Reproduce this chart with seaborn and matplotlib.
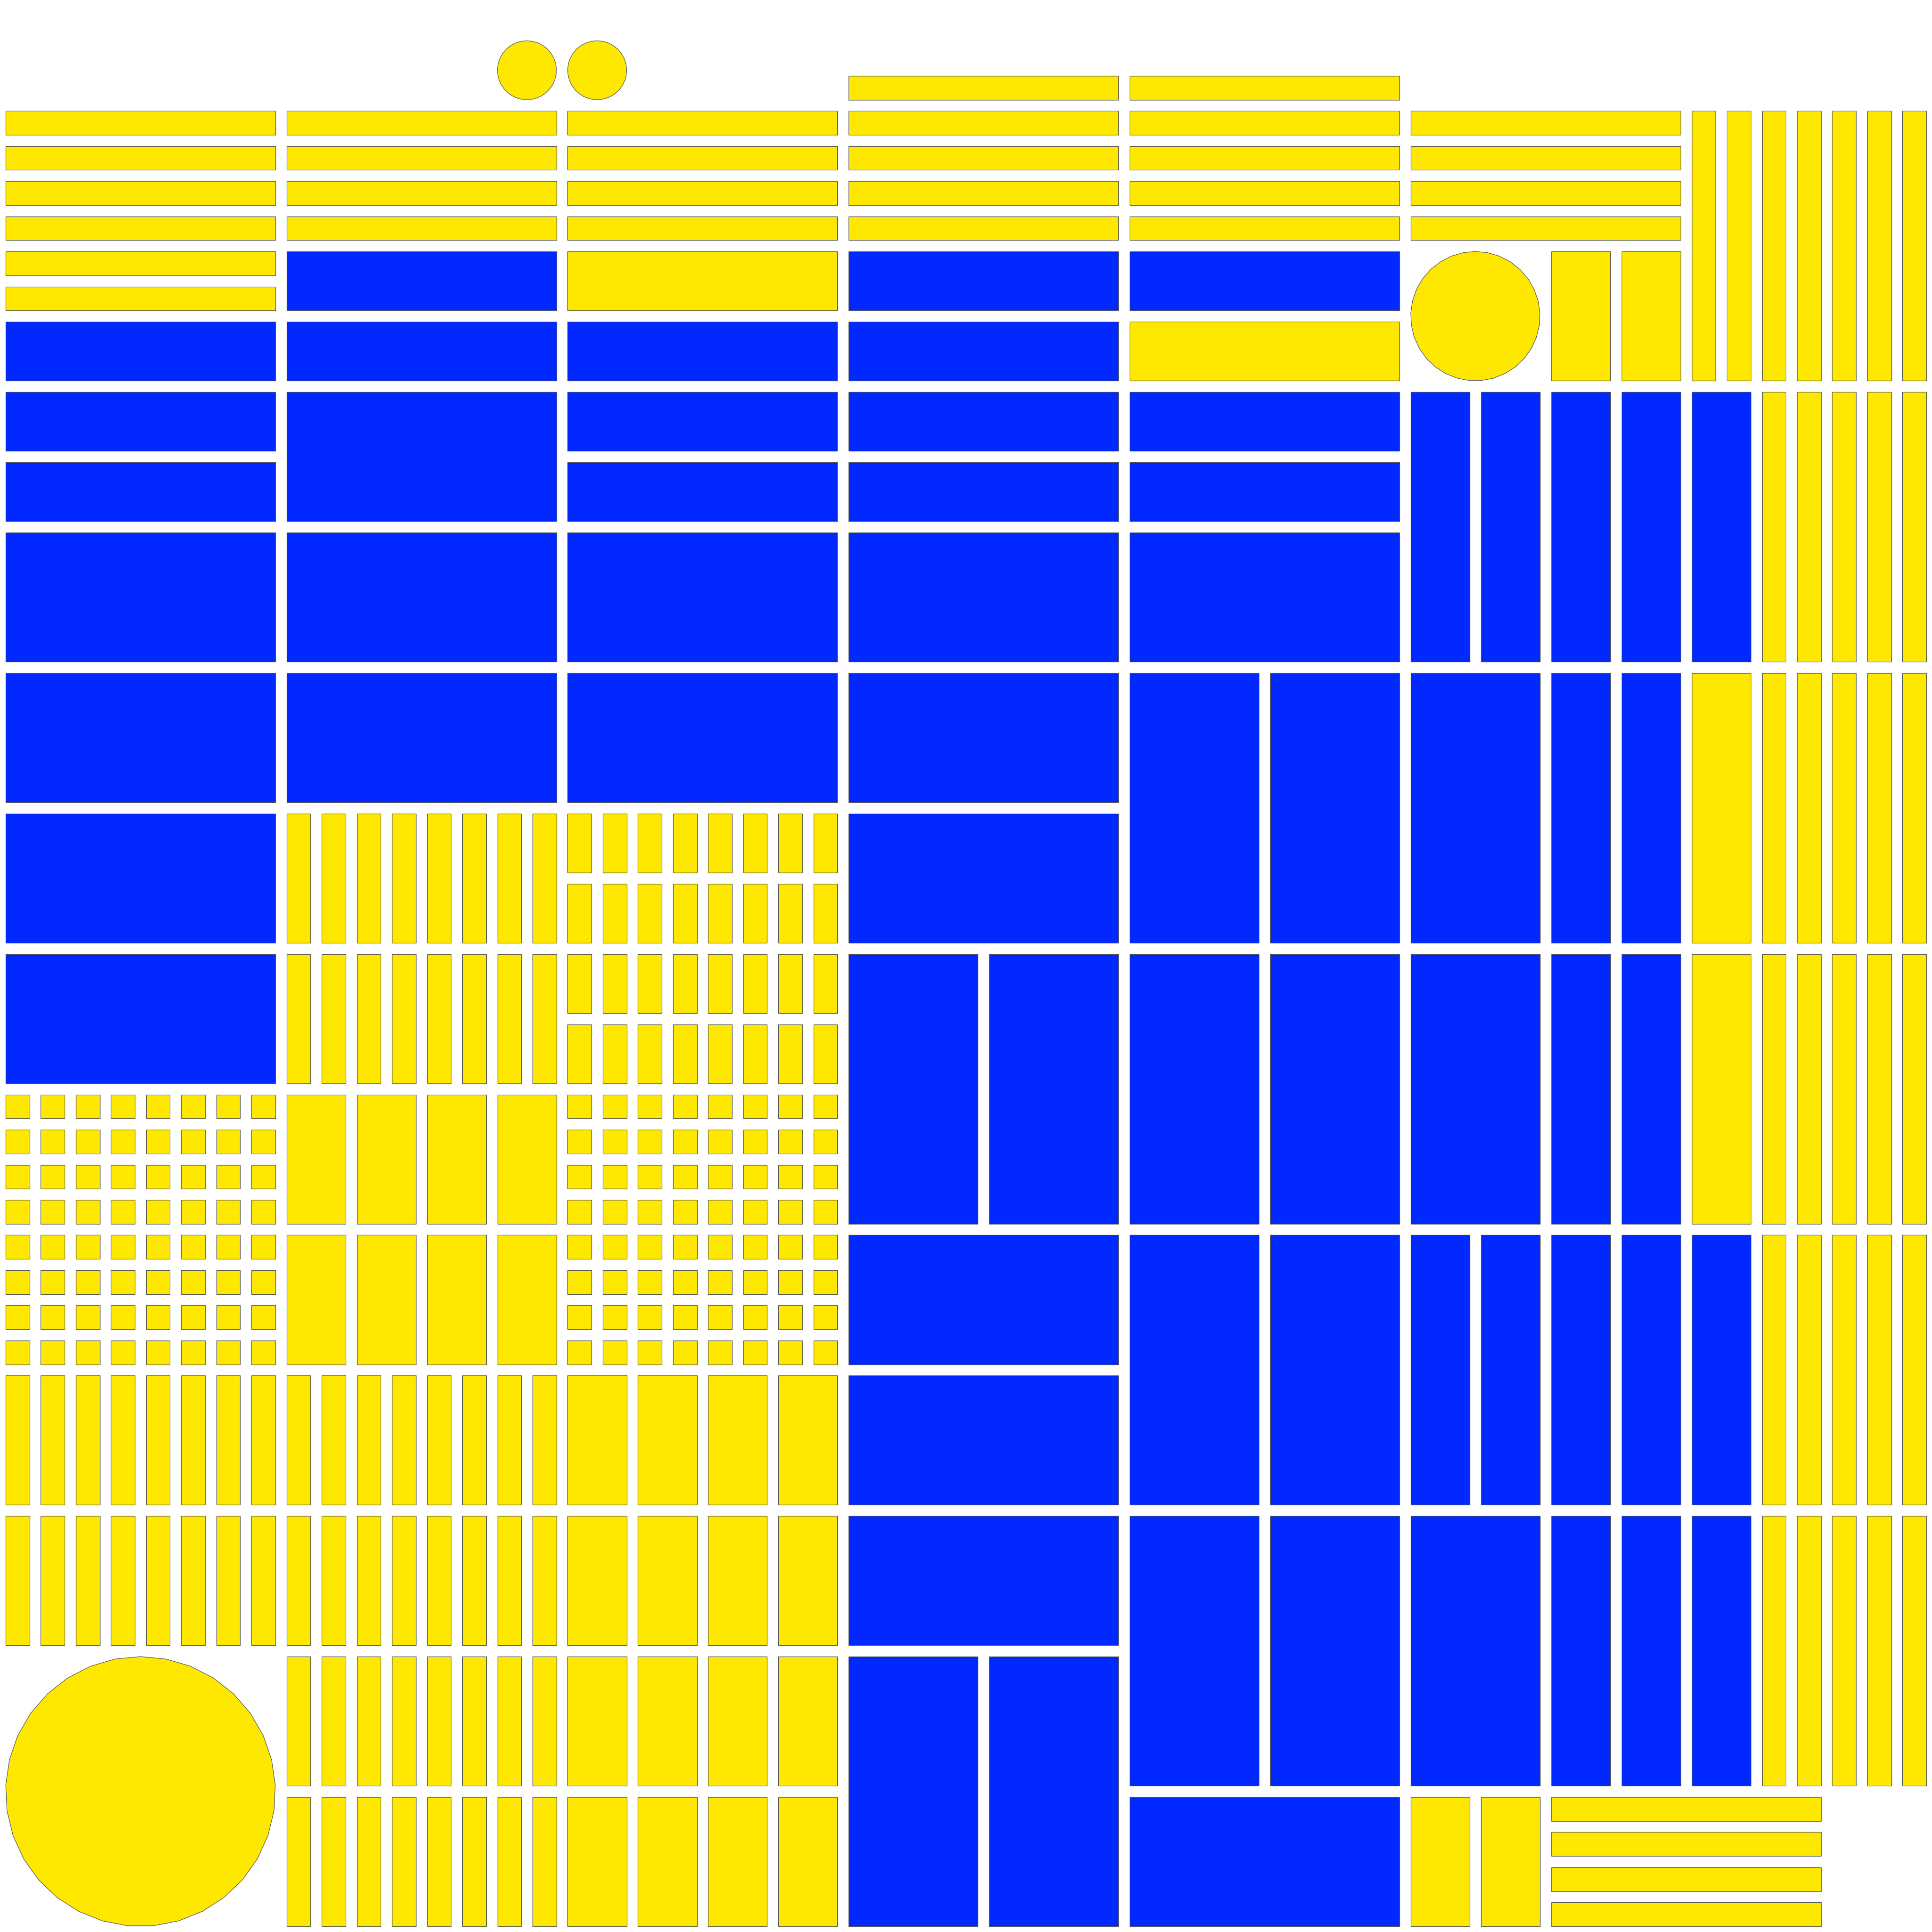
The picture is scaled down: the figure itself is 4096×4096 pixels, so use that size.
import seaborn as sns
import matplotlib.pyplot as plt
from matplotlib.patches import Rectangle, RegularPolygon
import numpy as np

# grid is 55 x 55 cells, y counted from the top
GRID = 55

# blocks: area (x, y, w, h) split into nx columns by ny rows of tiles
block_x = [0, 0, 0, 0, 0,
           8, 8, 8, 8, 8, 8,
           16, 16, 16, 16, 16, 16, 16,
           24, 24, 24, 24, 24, 24,
           32, 32, 32, 32, 32, 32, 32,
           40, 44, 40, 40, 44, 40, 44, 40, 40, 44, 40, 44,
           48, 48, 48, 48, 48, 48, 50]
block_y = [3, 9, 15, 31, 39,
           3, 7, 11, 23, 31, 39,
           3, 7, 9, 15, 23, 31, 39,
           2, 7, 15, 27, 35, 47,
           2, 7, 9, 11, 15, 19, 51,
           3, 7, 11, 19, 19, 27, 27, 35, 43, 43, 51, 51,
           3, 11, 19, 27, 35, 43, 11]
block_w = [8, 8, 8, 8, 8,
           8, 8, 8, 8, 8, 8,
           8, 8, 8, 8, 8, 8, 8,
           8, 8, 8, 8, 8, 8,
           8, 8, 8, 8, 8, 8, 8,
           8, 4, 8, 4, 4, 4, 4, 8, 4, 4, 4, 8,
           7, 2, 2, 2, 2, 2, 5]
block_h = [6, 6, 16, 8, 8,
           4, 4, 12, 8, 8, 16,
           4, 2, 6, 8, 8, 8, 16,
           5, 8, 12, 8, 12, 8,
           5, 2, 2, 4, 4, 32, 4,
           4, 4, 8, 8, 8, 8, 8, 8, 8, 8, 4, 4,
           8, 8, 8, 8, 8, 8, 40]
block_nx = [1, 1, 1, 8, 8,
            1, 1, 1, 8, 4, 8,
            1, 1, 1, 1, 8, 8, 4,
            1, 1, 1, 2, 1, 2,
            1, 1, 1, 1, 1, 2, 1,
            1, 2, 4, 1, 2, 1, 2, 4, 1, 2, 2, 1,
            7, 1, 1, 1, 1, 1, 5]
block_ny = [6, 3, 4, 8, 2,
            4, 2, 3, 2, 2, 4,
            4, 1, 3, 2, 4, 8, 4,
            5, 4, 3, 1, 3, 1,
            5, 1, 1, 2, 1, 4, 1,
            4, 1, 1, 1, 1, 1, 1, 1, 1, 1, 1, 4,
            1, 1, 1, 1, 1, 1, 5]
block_color = ["Y", "B", "B", "Y", "Y",
               "Y", "B", "B", "Y", "Y", "Y",
               "Y", "Y", "B", "B", "Y", "Y", "Y",
               "Y", "B", "B", "B", "B", "B",
               "Y", "B", "Y", "B", "B", "B", "B",
               "Y", "Y", "B", "B", "B", "B", "B", "B", "B", "B", "Y", "Y",
               "Y", "B", "Y", "Y", "B", "B", "Y"]

# circles: top-left cell and diameter in cells
circle_x = [14, 16, 40, 0]
circle_y = [1, 1, 7, 47]
circle_d = [2, 2, 4, 8]

sns.set_theme(style="white")
pal = dict(zip(["Y", "B"], sns.color_palette(["#FFE800", "#0028FF"])))
pad = 0.16
edge = "#555555"
lw = 0.35

fig = plt.figure(figsize=(16, 16), dpi=256)
ax = fig.add_axes([0, 0, 1, 1])
ax.set_xlim(0, GRID)
ax.set_ylim(GRID, 0)
ax.set_axis_off()

for x, y, w, h, nx, ny, c in zip(block_x, block_y, block_w, block_h,
                                 block_nx, block_ny, block_color):
    tw, th = w / nx, h / ny
    for i in range(nx):
        for j in range(ny):
            ax.add_patch(Rectangle((x + i * tw + pad, y + j * th + pad),
                                   tw - 2 * pad, th - 2 * pad,
                                   facecolor=pal[c], edgecolor=edge, lw=lw))

for x, y, d in zip(circle_x, circle_y, circle_d):
    ax.add_patch(RegularPolygon((x + d / 2, y + d / 2), numVertices=33,
                                radius=d / 2 - pad, orientation=np.pi / 33,
                                facecolor=pal["Y"], edgecolor=edge, lw=lw))

fig.savefig("out.png", dpi=256, facecolor="white")
